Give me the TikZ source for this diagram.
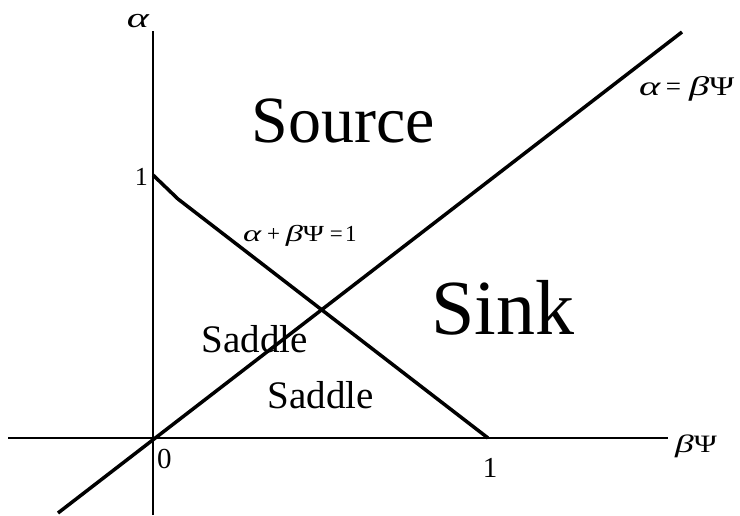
\documentclass[tikz,border=0pt]{standalone}
\usepackage{fontspec}
\setmainfont{Liberation Serif}
\newfontfamily\widegreek[FakeStretch=1.5]{Liberation Serif}
\newfontfamily\widepsi[FakeStretch=1.25]{Liberation Serif}
\usetikzlibrary{positioning}
\tikzset{
  axis/.style={draw=black, line width=1.5pt},
  boundary/.style={draw=black, line width=3.5pt},
  region/.style={inner sep=0pt, anchor=base, font=\fontsize{39}{39}\selectfont},
  ticklabel/.style={inner sep=0pt, anchor=base, font=\fontsize{29}{29}\selectfont},
  eqlabel/.style={inner sep=0pt, anchor=base west, font=\fontsize{26}{26}\selectfont}
}
\newcommand{\galpha}{{\widegreek\itshape α}}
\newcommand{\gbeta}{{\widegreek\itshape β}}
\newcommand{\gpsi}{{\widepsi Ψ}}

\begin{document}
\begin{tikzpicture}[x=1pt, y=-1pt]
\useasboundingbox (0,0) rectangle (740,515);
% axes
\coordinate (origin) at (153,438);
\coordinate (xleft) at (8,438);
\coordinate (xright) at (668,438);
\coordinate (ytop) at (153,31);
\coordinate (ybottom) at (153,515);
\draw[axis] (xleft) -- (xright);
\draw[axis] (ybottom) -- (ytop);
% boundaries
\coordinate (diagbottom) at (58,513);
\coordinate (diagtop) at (682,32);
\coordinate (aone) at (153,175);
\coordinate (kink) at (178,199);
\coordinate (bone) at (488,438);
\draw[boundary] (diagbottom) -- (diagtop);
\draw[boundary] (aone) -- (kink) -- (bone);
% axis labels
\node[ticklabel, font=\fontsize{28}{28}\selectfont] (alabel) at (138,27) {\galpha};
\node[eqlabel, font=\fontsize{25}{25}\selectfont] (blabel) at (675,452) {\gbeta\gpsi};
\node[ticklabel, anchor=base east, font=\fontsize{26}{26}\selectfont] (yone) at (148,185) {1};
\node[ticklabel, anchor=base west] (xzero) at (157,468) {0};
\node[ticklabel] (xone) at (490,477) {1};
% line labels
\node[eqlabel, font=\fontsize{27}{27}\selectfont] (diaglabel) at (639,95) {\galpha\hspace{0.2em}=\hspace{0.3em}\gbeta\gpsi};
\node[eqlabel, font=\fontsize{23}{23}\selectfont] (sumlabel) at (243,241) {\galpha\hspace{0.25em}+\hspace{0.25em}\gbeta\gpsi\hspace{0.25em}=\hspace{0.1em}1};
% regions
\node[region, font=\fontsize{66}{66}\selectfont] (source) at (343,142) {Source};
\node[region, font=\fontsize{78}{78}\selectfont] (sink) at (503,334) {Sink};
\node[region] (saddleup) at (255,352) {Saddle};
\node[region] (saddlelow) at (321,408) {Saddle};
\end{tikzpicture}
\end{document}
